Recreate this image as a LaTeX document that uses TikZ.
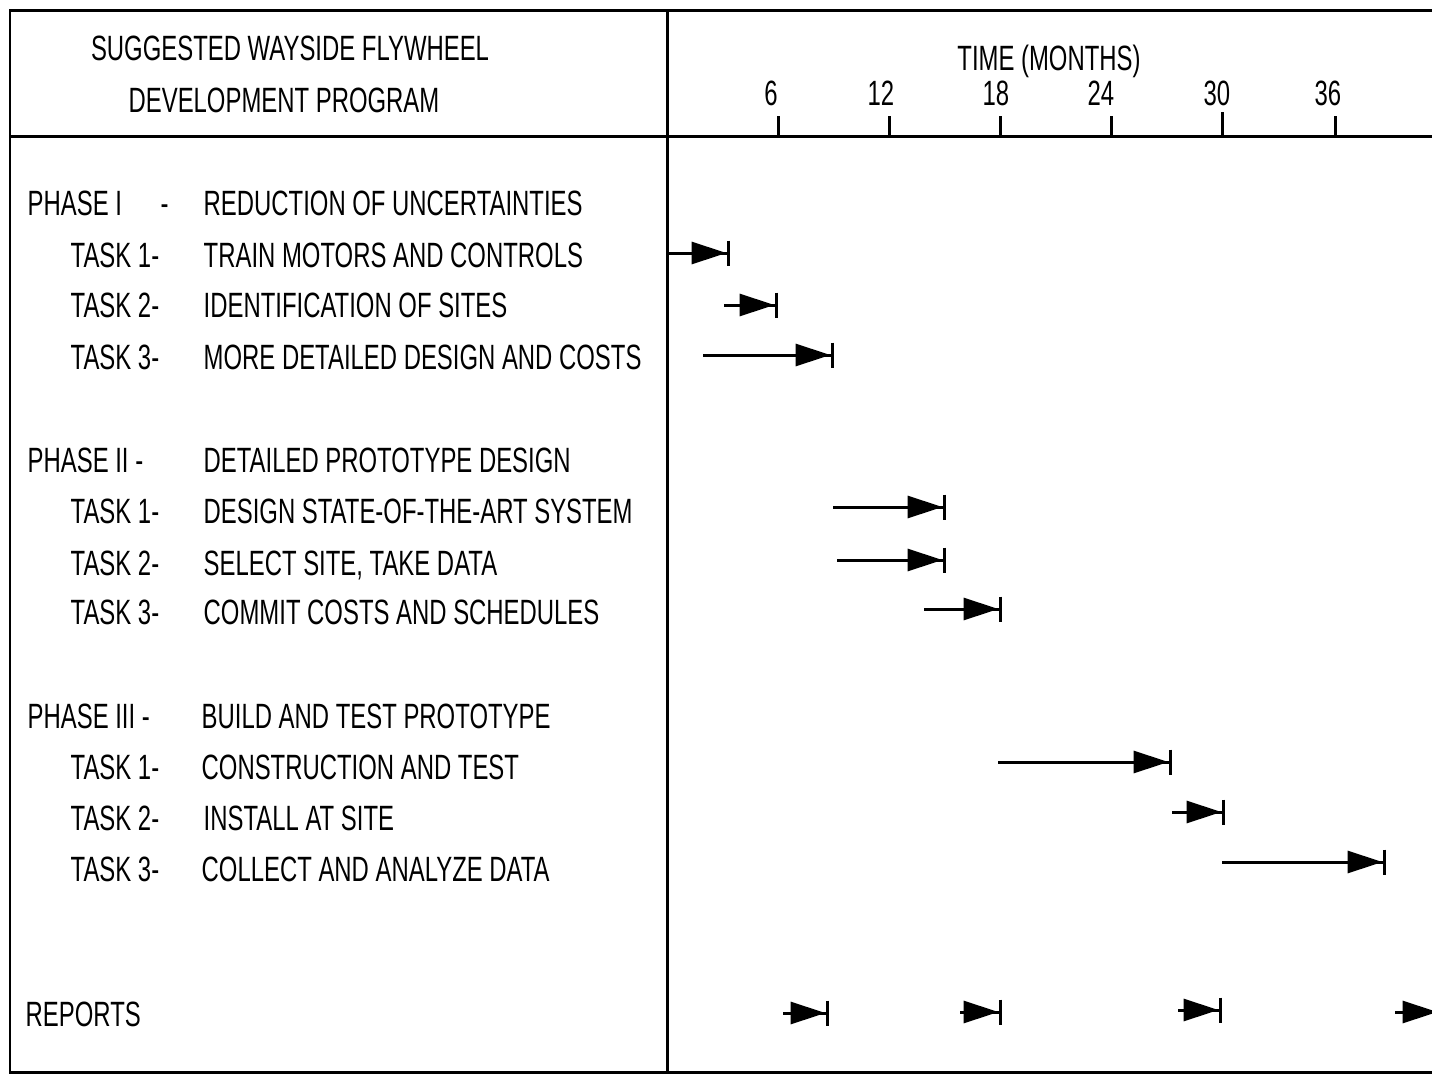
\documentclass[tikz,border=0pt]{standalone}
\usepackage{fontspec}
\setmainfont{Liberation Sans}[FakeStretch=0.68]
\usetikzlibrary{arrows.meta}
\tikzset{
  rule/.style={line width=0.3mm, draw=black},
  tickmark/.style={line width=0.3mm, draw=black},
  rowtext/.style={anchor=base west, inner sep=0pt, font=\fontsize{10}{12}\selectfont},
  headtext/.style={anchor=base, inner sep=0pt, font=\fontsize{10}{12}\selectfont},
  taskbar/.style={line width=0.3mm, -{Triangle[length=3.5mm,width=2.2mm]Bar[width=2.5mm,line width=0.35mm]}}
}

\begin{document}
\begin{tikzpicture}[x=0.1mm, y=-0.1mm]
  \useasboundingbox (0,0) rectangle (1432,1075);
  % frame
  \draw[rule] (1432,10) -- (10,10) -- (10,1072) -- (1432,1072);
  \draw[rule] (10,136) -- (1432,136);
  \draw[rule] (667,10) -- (667,1072);
  % header
  \node[headtext] (title1) at (290,60) {SUGGESTED WAYSIDE FLYWHEEL};
  \node[headtext] (title2) at (284,112) {DEVELOPMENT PROGRAM};
  \node[headtext] (timelabel) at (1049,70) {TIME (MONTHS)};
  \node[headtext] (m6) at (771,105) {6};
  \node[headtext] (m12) at (881,105) {12};
  \node[headtext] (m18) at (996,105) {18};
  \node[headtext] (m24) at (1101,105) {24};
  \node[headtext] (m30) at (1217,105) {30};
  \node[headtext] (m36) at (1328,105) {36};
  \draw[tickmark] (778,136) -- (778,116);
  \draw[tickmark] (889,136) -- (889,116);
  \draw[tickmark] (1000,136) -- (1000,116);
  \draw[tickmark] (1111,136) -- (1111,116);
  \draw[tickmark] (1222,136) -- (1222,112);
  \draw[tickmark] (1335,136) -- (1335,116);
  % phase I
  \node[rowtext] (phase1) at (27,215) {PHASE I};
  \node[rowtext] (phase1dash) at (160,215) {-};
  \node[rowtext] (phase1desc) at (203,215) {REDUCTION OF UNCERTAINTIES};
  \node[rowtext] (p1t1) at (70,267) {TASK 1-};
  \node[rowtext] (p1t1desc) at (203,267) {TRAIN MOTORS AND CONTROLS};
  \node[rowtext] (p1t2) at (70,317) {TASK 2-};
  \node[rowtext] (p1t2desc) at (203,317) {IDENTIFICATION OF SITES};
  \node[rowtext] (p1t3) at (70,369) {TASK 3-};
  \node[rowtext] (p1t3desc) at (203,369) {MORE DETAILED DESIGN AND COSTS};
  % phase II
  \node[rowtext] (phase2) at (27,472) {PHASE II -};
  \node[rowtext] (phase2desc) at (203,472) {DETAILED PROTOTYPE DESIGN};
  \node[rowtext] (p2t1) at (70,523) {TASK 1-};
  \node[rowtext] (p2t1desc) at (203,523) {DESIGN STATE-OF-THE-ART SYSTEM};
  \node[rowtext] (p2t2) at (70,575) {TASK 2-};
  \node[rowtext] (p2t2desc) at (203,575) {SELECT SITE, TAKE DATA};
  \node[rowtext] (p2t3) at (70,624) {TASK 3-};
  \node[rowtext] (p2t3desc) at (203,624) {COMMIT COSTS AND SCHEDULES};
  % phase III
  \node[rowtext] (phase3) at (27,728) {PHASE III -};
  \node[rowtext] (phase3desc) at (201,728) {BUILD AND TEST PROTOTYPE};
  \node[rowtext] (p3t1) at (70,779) {TASK 1-};
  \node[rowtext] (p3t1desc) at (201,779) {CONSTRUCTION AND TEST};
  \node[rowtext] (p3t2) at (70,830) {TASK 2-};
  \node[rowtext] (p3t2desc) at (203,830) {INSTALL AT SITE};
  \node[rowtext] (p3t3) at (70,881) {TASK 3-};
  \node[rowtext] (p3t3desc) at (201,881) {COLLECT AND ANALYZE DATA};
  \node[rowtext] (reports) at (25,1026) {REPORTS};
  % bar ends
  \coordinate (p1t1s) at (667,253);  \coordinate (p1t1e) at (730,253);
  \coordinate (p1t2s) at (724,305);  \coordinate (p1t2e) at (778,305);
  \coordinate (p1t3s) at (703,355);  \coordinate (p1t3e) at (834,355);
  \coordinate (p2t1s) at (833,507);  \coordinate (p2t1e) at (946,507);
  \coordinate (p2t2s) at (837,560);  \coordinate (p2t2e) at (946,560);
  \coordinate (p2t3s) at (924,609);  \coordinate (p2t3e) at (1002,609);
  \coordinate (p3t1s) at (998,762);  \coordinate (p3t1e) at (1172,762);
  \coordinate (p3t2s) at (1172,812); \coordinate (p3t2e) at (1225,812);
  \coordinate (p3t3s) at (1222,862); \coordinate (p3t3e) at (1386,862);
  \coordinate (rep1s) at (783,1013);  \coordinate (rep1e) at (829,1013);
  \coordinate (rep2s) at (960,1012);  \coordinate (rep2e) at (1002,1012);
  \coordinate (rep3s) at (1178,1010); \coordinate (rep3e) at (1222,1010);
  \coordinate (rep4s) at (1395,1012); \coordinate (rep4e) at (1441,1012);
  % bars
  \draw[taskbar] (p1t1s) -- (p1t1e);
  \draw[taskbar] (p1t2s) -- (p1t2e);
  \draw[taskbar] (p1t3s) -- (p1t3e);
  \draw[taskbar] (p2t1s) -- (p2t1e);
  \draw[taskbar] (p2t2s) -- (p2t2e);
  \draw[taskbar] (p2t3s) -- (p2t3e);
  \draw[taskbar] (p3t1s) -- (p3t1e);
  \draw[taskbar] (p3t2s) -- (p3t2e);
  \draw[taskbar] (p3t3s) -- (p3t3e);
  \draw[taskbar] (rep1s) -- (rep1e);
  \draw[taskbar] (rep2s) -- (rep2e);
  \draw[taskbar] (rep3s) -- (rep3e);
  \draw[taskbar] (rep4s) -- (rep4e);
\end{tikzpicture}
\end{document}
